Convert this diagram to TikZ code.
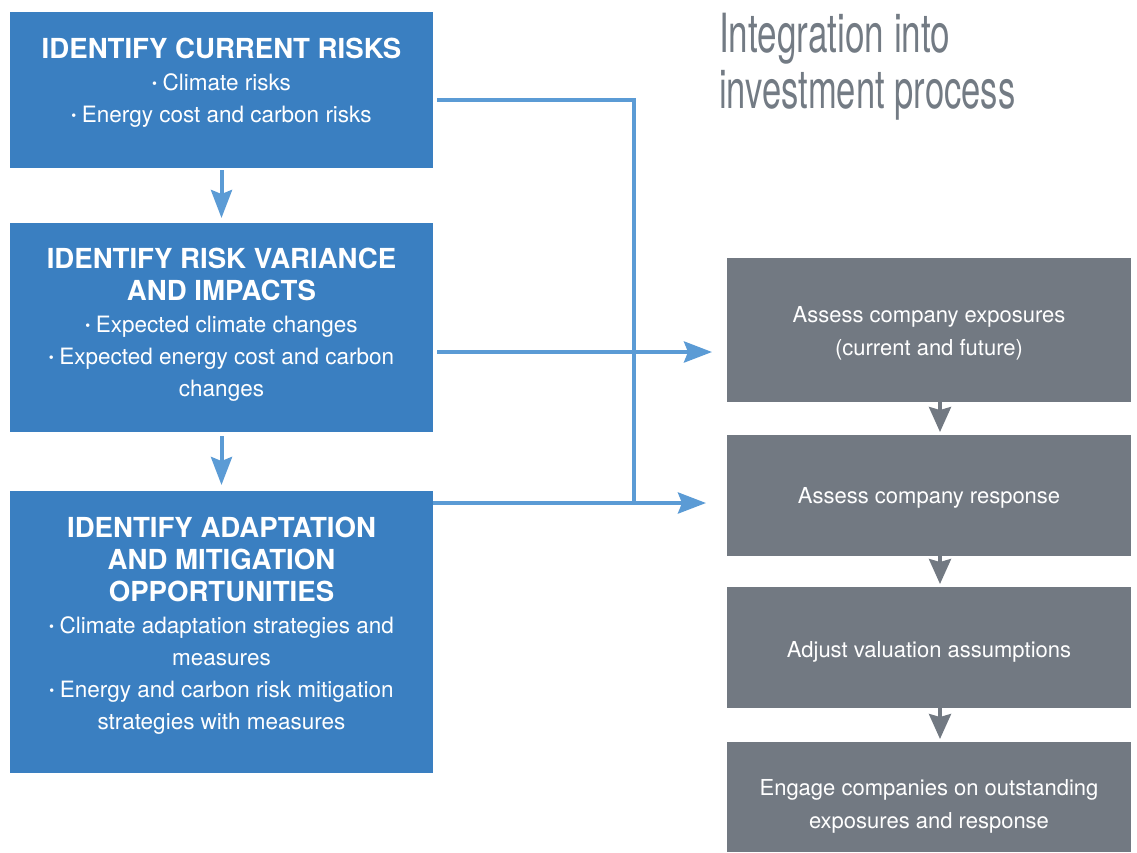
\documentclass[tikz,border=0pt]{standalone}
\usepackage{fontspec}
\setmainfont{TeX Gyre Heros}
\usetikzlibrary{arrows.meta,calc}
\definecolor{boxblue}{HTML}{3A7FC1}
\definecolor{lineblue}{HTML}{5B9BD5}
\definecolor{boxgray}{HTML}{727982}
\definecolor{titlegray}{HTML}{737B84}
\newcommand\hdr{\fontsize{27.6}{32}\selectfont\bfseries}
\newcommand\bulp{\raisebox{2.5pt}{\fontsize{14}{14}\selectfont\textbullet}\hspace{0.25em}}
\tikzset{
  bluebox/.style={fill=boxblue, draw=none, anchor=north west, inner sep=0pt, minimum width=423pt},
  graybox/.style={fill=boxgray, draw=none, anchor=north west, inner sep=0pt, minimum width=404pt},
  bluetext/.style={text=white, align=center, inner sep=0pt, font=\fontsize{22.5}{32}\selectfont},
  graytext/.style={text=white, align=center, inner sep=0pt, font=\fontsize{22}{33}\selectfont},
  bline/.style={draw=lineblue, line width=4pt},
  barrow/.style={bline, -{Stealth[length=28pt,width=21pt,inset=4pt]}},
  garrow/.style={draw=boxgray, line width=3.5pt, -{Stealth[length=25pt,width=22pt,inset=3pt]}}
}
\begin{document}
\begin{tikzpicture}[x=1pt,y=1pt]
\useasboundingbox (0,0) rectangle (1137,-852);
% left blue boxes
\node[bluebox, minimum height=156pt] (b1) at (10,-12) {};
\node[bluebox, minimum height=209pt] (b2) at (10,-223) {};
\node[bluebox, minimum height=282pt] (b3) at (10,-491) {};
\node[bluetext, anchor=north] (t1) at (221.5,-38.2)
  {{\hdr IDENTIFY CURRENT RISKS}\\\bulp Climate risks\\\bulp Energy cost and carbon risks};
\node[bluetext, anchor=north] (t2) at (221.5,-248.2)
  {{\hdr IDENTIFY RISK VARIANCE}\\{\hdr AND IMPACTS}\\\bulp Expected climate changes\\\bulp Expected energy cost and carbon\\changes};
\node[bluetext, anchor=north] (t3) at (221.5,-517.2)
  {{\hdr IDENTIFY ADAPTATION}\\{\hdr AND MITIGATION}\\{\hdr OPPORTUNITIES}\\\bulp Climate adaptation strategies and\\measures\\\bulp Energy and carbon risk mitigation\\strategies with measures};
% right gray boxes
\node[graybox, minimum height=144pt] (g1) at (727,-258) {};
\node[graybox, minimum height=121pt] (g2) at (727,-435) {};
\node[graybox, minimum height=121pt] (g3) at (727,-587) {};
\node[graybox, minimum height=110pt] (g4) at (727,-742) {};
\node[graytext, anchor=north] (s1) at (929,-306.2) {Assess company exposures\\(current and future)};
\node[graytext, anchor=base] (s2) at (929,-503) {Assess company response};
\node[graytext, anchor=base] (s3) at (929,-657) {Adjust valuation assumptions};
\node[graytext, anchor=north] (s4) at (929,-779.2) {Engage companies on outstanding\\exposures and response};
% title
\node[anchor=north west, inner sep=0pt, align=left, text=titlegray, font=\fontsize{54}{56}\selectfont] (title) at (719,-13)
  {\scalebox{0.65}[1]{Integration into}\\\scalebox{0.64}[1]{investment process}};
% connector helper coordinates
\coordinate (jt) at (634,-100);
\coordinate (jb) at (634,-503);
\coordinate (ym) at (634,-352);
\coordinate (ax) at (940,0);
\coordinate (bx) at (221.5,0);
% blue connectors
\draw[barrow, shorten <=2pt, shorten >=5pt] (b1.south -| bx) -- (b2.north -| bx);
\draw[barrow, shorten <=4pt, shorten >=6pt] (b2.south -| bx) -- (b3.north -| bx);
\draw[bline, shorten <=4pt] (b1.east |- jt) -- (jt) -- (jb);
\draw[barrow, shorten <=4pt, shorten >=15pt] (b2.east |- ym) -- (g1.west |- ym);
\draw[barrow, shorten >=21pt] (b3.east |- jb) -- (g2.west |- jb);
% gray connectors
\draw[garrow, shorten >=3pt] (g1.south -| ax) -- (g2.north -| ax);
\draw[garrow, shorten >=3pt] (g2.south -| ax) -- (g3.north -| ax);
\draw[garrow, shorten >=3pt] (g3.south -| ax) -- (g4.north -| ax);
\end{tikzpicture}
\end{document}
